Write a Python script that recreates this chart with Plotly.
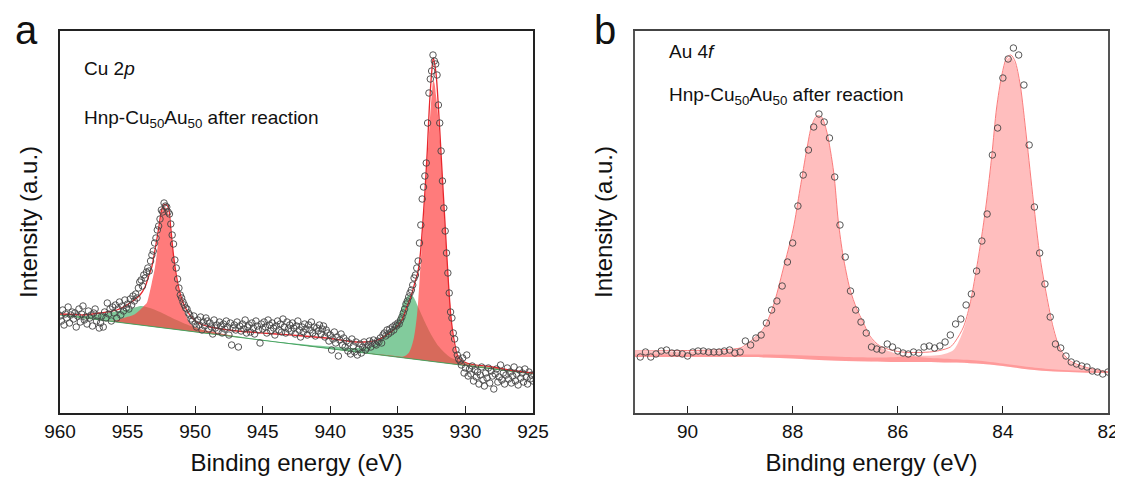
import numpy as np
import plotly.graph_objects as go

FONT = "Liberation Sans, Arial, Helvetica, sans-serif"

# ---------------- Panel a : Cu 2p ----------------
cu_E_start, cu_E_step = 960.0, 0.1
cu_counts = [
    97, 92, 103, 88, 99, 95, 106, 90, 98, 101,
    94, 100, 86, 97, 104, 91, 99, 107, 93, 96,
    89, 102, 95, 98, 87, 100, 104, 92, 97, 85,
    90, 97, 86, 101, 95, 110, 99, 104, 92, 106,
    100, 108, 95, 104, 111, 98, 107, 102, 113, 105,
    109, 104, 114, 108, 117, 112, 119, 115, 125, 131,
    133, 127, 138, 135, 141, 145, 142, 152, 158, 162,
    170, 175, 183, 187, 194, 203, 201, 210, 207, 206,
    201, 199, 189, 178, 169, 153, 145, 134, 125, 118,
    115, 111, 108, 105, 104, 100, 98, 94, 92, 97,
    89, 86, 93, 88, 96, 83, 91, 87, 95, 92,
    84, 90, 86, 79, 93, 85, 88, 82, 91, 87,
    80, 89, 84, 92, 86, 78, 90, 68, 85, 88,
    83, 91, 66, 87, 82, 89, 84, 93, 80, 86,
    88, 81, 90, 85, 79, 92, 87, 83, 70, 89,
    84, 91, 86, 80, 93, 88, 82, 90, 85, 78,
    87, 92, 83, 89, 81, 94, 86, 80, 91, 84,
    88, 82, 90, 85, 79, 87, 92, 83, 76, 86,
    81, 89, 84, 78, 88, 83, 91, 80, 86, 77,
    85, 82, 88, 79, 84, 87, 76, 83, 80, 72,
    78, 63, 74, 81, 70, 76, 57, 73, 79, 68,
    75, 66, 72, 62, 70, 59, 74, 67, 61, 71,
    58, 64, 69, 60, 66, 71, 63, 65, 68, 72,
    66, 70, 73, 69, 68, 72, 71, 75, 70, 78,
    80, 77, 83, 79, 84, 81, 86, 83, 88, 87,
    90, 89, 93, 96, 100, 104, 109, 112, 116, 120,
    123, 128, 135, 138, 145, 152, 170, 188, 214, 226,
    237, 250, 290, 320, 334, 342, 358, 352, 349, 338,
    308, 290, 262, 232, 205, 182, 160, 140, 120, 101,
    95, 80, 74, 63, 58, 54, 52, 48, 55, 40,
    45, 58, 37, 44, 39, 47, 32, 43, 36, 41,
    29, 38, 46, 33, 27, 40, 35, 45, 30, 42,
    37, 24, 39, 44, 31, 36, 48, 33, 40, 29,
    38, 45, 34, 41, 30, 37, 46, 32, 39, 28,
    43, 35, 40, 31, 44, 36, 29, 41, 34, 38,
    32,
]
cu_E = [round(cu_E_start - i * cu_E_step, 1) for i in range(len(cu_counts))]

cu_bg_E = [960, 925]
cu_bg_I = [98, 39]

cu_sat_red_E = [960, 958, 957, 956, 955.3, 954.5, 954.08, 953.8, 953.58, 953.41, 953.21,
                952.97, 952.72, 952.48, 952.3, 952.15, 951.99, 951.74, 951.56, 951.37,
                951.12, 950.88, 950.63, 950.38, 949.88, 948.4, 947, 945, 925]
cu_sat_red_I = [98, 94.8, 93.3, 92.3, 95, 98.5, 103, 107, 110, 118, 130,
                146, 173, 200, 206, 205, 199, 173, 153, 133,
                118, 106, 96, 90, 85, 80.5, 76.6, 72.8, 39]

cu_sat_green_E = [960, 958.5, 957.5, 956.3, 955.07, 954.33, 953.96, 953.34, 952.6,
                  951.37, 950.14, 949, 948, 946, 925]
cu_sat_green_I = [98, 97, 98, 100.5, 103.5, 106, 107, 105, 101,
                  93, 86, 81.5, 79, 75, 39]

cu_green_E = [960, 945, 941.5, 940, 938.5, 937.5, 936.8, 936.1, 935.3, 934.95, 934.6,
              934.2, 934.0, 933.8, 933.5, 933.0, 932.6, 932.0, 931.1, 930.0, 928.5,
              927, 925]
cu_green_I = [98, 72.7, 68, 66.5, 65, 65.5, 68, 77, 86, 96, 110,
              118, 118, 115, 106, 91, 80, 67, 55.5, 50.5, 46.5,
              43.8, 39.5]

cu_red_E = [960, 940, 937, 935.5, 934.6, 934.2, 933.85, 933.6, 933.49, 933.36, 933.24,
            933.12, 933.04, 932.915, 932.76, 932.565, 932.45, 932.38, 932.28, 932.18,
            932.08, 931.93, 931.76, 931.61, 931.51, 931.39, 931.24, 931.09, 930.9,
            930.65, 930.27, 929.5, 928.5, 927.5, 926.5, 925]
cu_red_I = [98, 64.3, 59.5, 57.5, 56.5, 60, 73, 96, 113, 140, 166,
            190, 206, 233, 266, 306, 325, 333, 329, 318,
            306, 280, 246, 210, 186, 160, 130, 103, 73,
            58, 51, 47.5, 45.5, 44, 42.3, 39.5]

cu_env_E = [960.0, 959, 958.27, 957.04, 955.8, 954.82, 954.08, 953.71, 953.46, 953.21,
            952.97, 952.72, 952.48, 952.3, 952.2, 951.99, 951.81, 951.62, 951.37, 951.12,
            950.88, 950.5, 949.88, 948.9, 947.5, 946, 944, 942, 940, 938.5, 937.5, 936.5,
            936.08, 935.33, 934.7, 934.34, 933.97, 933.73, 933.53, 933.36, 933.21, 932.99,
            932.82, 932.67, 932.5, 932.38, 932.18, 932.0, 931.83, 931.64, 931.44, 931.27,
            931.07, 930.84, 930.53, 929.9, 928, 926.5, 925]
cu_env_I = [99, 98.5, 98, 100, 103, 110, 118, 126, 136, 146,
            163, 183, 203, 208.5, 208.5, 206, 186, 160, 136, 120,
            110, 100, 91, 86, 83, 81, 79, 77, 74.5, 71.5, 71, 73,
            76, 83, 93, 106, 119, 131, 140, 156, 180, 223,
            263, 306, 340, 355, 340, 306, 266, 220, 173, 133,
            96, 73, 56, 50, 46, 42.5, 40]

cu_ticks = [960, 955, 950, 945, 940, 935, 930, 925]

# ---------------- Panel b : Au 4f ----------------
au_E_start, au_E_step = 90.9, 0.1
au_counts = [
    56, 61, 56, 59, 62, 63, 60, 60, 59, 57,
    61, 62, 62, 61, 61, 61, 62, 63, 60, 61,
    72, 68, 75, 78, 90, 103, 112, 127, 151, 170,
    207, 238, 263, 286, 299, 291, 275, 236, 188, 156,
    122, 103, 91, 80, 66, 64, 63, 69, 66, 62,
    60, 59, 61, 60, 66, 67, 65, 67, 71, 78,
    89, 94, 108, 119, 142, 172, 199, 258, 285, 335,
    354, 365, 358, 328, 268, 206, 160, 129, 96, 69,
    65, 57, 51, 49, 47, 46, 42, 41, 39, 41,
]
au_E = [round(au_E_start - i * au_E_step, 1) for i in range(len(au_counts))]

au_bg_E = [91, 89, 88.5, 88, 87.5, 87, 86.5, 86, 85, 84.5, 84, 83.5, 83, 82.5, 82]
au_bg_I = [56, 56, 55.5, 54.5, 53, 52, 51.5, 51, 50.5, 49.5, 47, 43.5, 41.5, 40.5, 40]

au_p1_E = [91, 90, 89.5, 89, 88.87, 88.56, 88.37, 88.18, 87.99, 87.86, 87.73, 87.64,
           87.54, 87.45, 87.35, 87.22, 87.13, 87.04, 86.91, 86.78, 86.66, 86.53, 86.34,
           86.0, 85.5, 85, 84.5, 84, 83.5, 83, 82]
au_p1_I = [61, 61.5, 62, 64, 68, 83, 106, 143, 183, 223, 263, 286,
           296, 295, 280, 240, 190, 156, 123, 103, 90, 76, 66,
           59, 55.5, 54, 52.5, 49.5, 46, 43.5, 41.5]

au_p2_E = [91, 89, 88, 87, 86.3, 86, 85.7, 85.2, 84.94, 84.75, 84.63, 84.5, 84.4, 84.31,
           84.21, 84.12, 84.02, 83.93, 83.85, 83.77, 83.67, 83.55, 83.42, 83.29, 83.17,
           83.04, 82.91, 82.72, 82.41, 82]
au_p2_I = [58.5, 58.5, 58, 56, 55.5, 56, 57, 58, 63, 83, 106, 143, 176, 210,
           256, 303, 336, 353, 356, 350, 326, 273, 210, 153, 116,
           83, 63, 51, 45, 40.5]

au_env_E = [91, 90, 89.5, 89, 88.87, 88.56, 88.37, 88.18, 87.99, 87.86, 87.73, 87.64,
            87.54, 87.45, 87.35, 87.22, 87.13, 87.04, 86.91, 86.78, 86.66, 86.53, 86.34,
            86.0, 85.7, 85.4, 85.2, 85.0, 84.9, 84.75, 84.63, 84.5, 84.4, 84.31, 84.21,
            84.12, 84.02, 83.93, 83.85, 83.77, 83.67, 83.55, 83.42, 83.29, 83.17, 83.04,
            82.91, 82.72, 82.41, 82]
au_env_I = [62, 62.5, 63, 65, 69, 84, 107, 144, 184, 224, 264, 287,
            297, 296, 281, 241, 191, 157, 124, 104, 91, 77, 67,
            61.5, 60.5, 61, 62.5, 66, 72, 86, 108, 145, 178, 212, 258,
            305, 338, 355, 358, 352, 328, 275, 212, 155, 118, 85,
            64, 52, 45.5, 41]

au_ticks = [90, 88, 86, 84, 82]

# ---------------- styles ----------------
RED_FILL = "rgba(255,60,60,0.68)"
GREEN_FILL = "rgba(40,165,85,0.58)"
PINK_FILL = "rgba(255,110,110,0.45)"
MARKER = dict(symbol="circle-open", size=6.5, color="#444444", line=dict(width=0.9))

# page offset of the plot inside the html body (default 8 px margin)
OFF = 8
W, H = 1123 - OFF, 481 - OFF


def px(x):
    return (x - OFF) / W


def py(y):
    return 1 - (y - OFF) / H


fig = go.Figure()


def add_base(xs, ys, xa, ya, shape):
    fig.add_trace(go.Scatter(x=xs, y=ys, mode="lines", line=dict(width=0, shape=shape),
                             xaxis=xa, yaxis=ya, showlegend=False, hoverinfo="skip"))


def add_comp(xs, ys, color, xa, ya):
    fig.add_trace(go.Scatter(x=xs, y=ys, mode="lines", fill="tonexty", fillcolor=color,
                             line=dict(width=0, shape="spline", smoothing=0.8),
                             xaxis=xa, yaxis=ya, showlegend=False, hoverinfo="skip"))


# panel a components
for cx, cy, col in [(cu_sat_green_E, cu_sat_green_I, GREEN_FILL),
                    (cu_green_E, cu_green_I, GREEN_FILL),
                    (cu_sat_red_E, cu_sat_red_I, RED_FILL),
                    (cu_red_E, cu_red_I, RED_FILL)]:
    add_base(cu_bg_E, cu_bg_I, "x", "y", "linear")
    add_comp(cx, cy, col, "x", "y")

fig.add_trace(go.Scatter(x=cu_bg_E, y=cu_bg_I, mode="lines",
                         line=dict(color="rgba(60,160,90,0.9)", width=1),
                         xaxis="x", yaxis="y", showlegend=False))
fig.add_trace(go.Scatter(x=cu_env_E, y=cu_env_I, mode="lines",
                         line=dict(color="#e8262c", width=1.3, shape="spline", smoothing=0.8),
                         xaxis="x", yaxis="y", showlegend=False))
fig.add_trace(go.Scatter(x=cu_E, y=cu_counts, mode="markers", marker=MARKER,
                         xaxis="x", yaxis="y", showlegend=False))

# panel b components
for cx, cy in [(au_p1_E, au_p1_I), (au_p2_E, au_p2_I)]:
    add_base(au_bg_E, au_bg_I, "x2", "y2", "spline")
    add_comp(cx, cy, PINK_FILL, "x2", "y2")

fig.add_trace(go.Scatter(x=au_env_E, y=au_env_I, mode="lines",
                         line=dict(color="rgba(250,110,110,0.9)", width=1, shape="spline",
                                   smoothing=0.8),
                         xaxis="x2", yaxis="y2", showlegend=False))
fig.add_trace(go.Scatter(x=au_E, y=au_counts, mode="markers", marker=MARKER,
                         xaxis="x2", yaxis="y2", showlegend=False))

Y0, Y1 = py(413), py(31)


def xaxis(dom, rng, ticks, lc):
    return dict(domain=dom, range=rng, tickvals=ticks, ticks="inside", ticklen=7,
                tickwidth=1.2, tickcolor="#222", showline=True, mirror=True,
                linecolor=lc, linewidth=1.6, showgrid=False, zeroline=False,
                automargin=False,
                tickfont=dict(family=FONT, size=19, color="#111"),
                title=dict(text="Binding energy (eV)", standoff=14,
                           font=dict(family=FONT, size=24, color="#111")))


def yaxis(anchor, lc):
    return dict(domain=[Y0, Y1], range=[0, 382], anchor=anchor, showticklabels=False,
                ticks="", showline=True, mirror=True, linecolor=lc, linewidth=1.6,
                showgrid=False, zeroline=False, automargin=False,
                title=dict(text="Intensity (a.u.)", standoff=14,
                           font=dict(family=FONT, size=24, color="#111")))


fig.update_layout(
    width=W, height=H,
    margin=dict(l=0, r=0, t=0, b=0, autoexpand=False),
    paper_bgcolor="white", plot_bgcolor="white",
    font=dict(family=FONT, color="#111"),
    xaxis=dict(**xaxis([px(60), px(533)], [960, 925], cu_ticks, "#222"), anchor="y"),
    yaxis=yaxis("x", "#222"),
    xaxis2=dict(**xaxis([px(635), px(1108)], [91, 82], au_ticks, "#444"), anchor="y2"),
    yaxis2=yaxis("x2", "#555"),
    showlegend=False,
)

ann = [
    dict(text="a", x=px(26), y=py(30), size=40),
    dict(text="b", x=px(605), y=py(30), size=40),
    dict(text="Cu 2<i>p</i>", x=px(82), y=py(68), size=19),
    dict(text="Hnp-Cu<sub>50</sub>Au<sub>50</sub> after reaction", x=px(82), y=py(119), size=19),
    dict(text="Au 4<i>f</i>", x=px(667), y=py(52), size=19),
    dict(text="Hnp-Cu<sub>50</sub>Au<sub>50</sub> after reaction", x=px(667), y=py(96), size=19),
]
for i, a in enumerate(ann):
    fig.add_annotation(text=a["text"], x=a["x"], y=a["y"], xref="paper", yref="paper",
                       xanchor="center" if i < 2 else "left", yanchor="middle",
                       showarrow=False,
                       font=dict(family=FONT, size=a["size"], color="#111"))

fig.write_html("out.html")
